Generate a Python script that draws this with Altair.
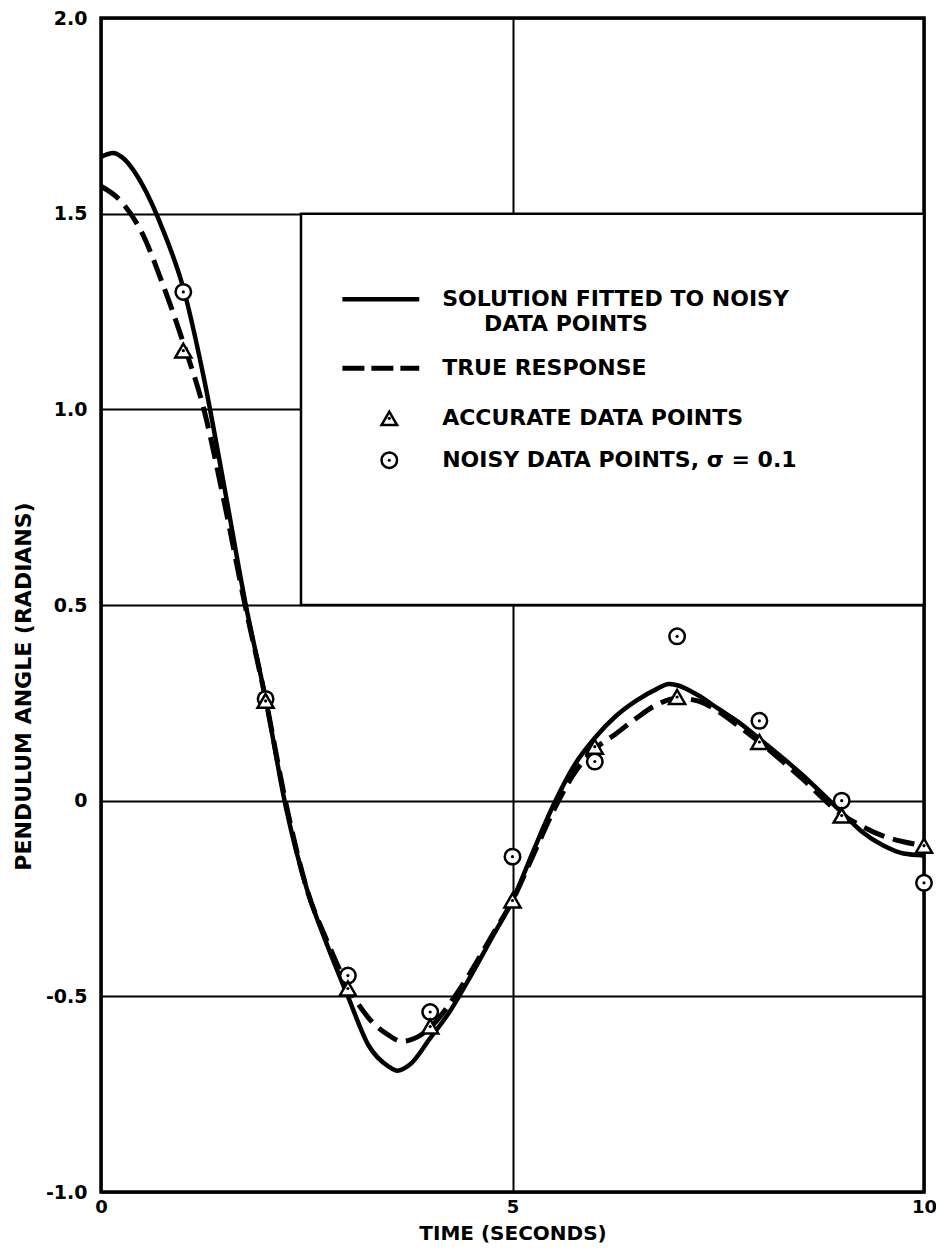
import altair as alt
import pandas as pd

# ---------------- data ----------------
fit_t = [0, 0.15, 0.25, 0.5, 0.75, 1.0, 1.25, 1.5, 1.75, 2.0, 2.25, 2.5, 2.75, 3.0,
         3.25, 3.5, 3.6, 3.75, 4.0, 4.25, 4.5, 4.75, 5.0, 5.25, 5.5, 5.75, 6.0, 6.25,
         6.5, 6.75, 6.9, 7.0, 7.25, 7.5, 7.75, 8.0, 8.5, 9.0, 9.25, 9.5, 9.75, 10.0]
fit_v = [1.645, 1.655, 1.645, 1.575, 1.46, 1.31, 1.08, 0.80, 0.51, 0.26, -0.02, -0.225,
         -0.37, -0.50, -0.625, -0.68, -0.69, -0.675, -0.607, -0.535, -0.445, -0.35,
         -0.255, -0.13, -0.01, 0.09, 0.16, 0.215, 0.255, 0.285, 0.298, 0.295, 0.27,
         0.235, 0.20, 0.158, 0.07, -0.03, -0.08, -0.114, -0.135, -0.14]

true_t = [0, 0.25, 0.5, 0.75, 1.0, 1.25, 1.5, 1.75, 2.0, 2.25, 2.5, 2.75, 3.0, 3.25,
          3.5, 3.65, 3.75, 4.0, 4.25, 4.5, 4.75, 5.0, 5.25, 5.5, 5.75, 6.0, 6.25, 6.5,
          6.75, 7.0, 7.25, 7.5, 7.75, 8.0, 8.5, 9.0, 9.25, 9.5, 9.75, 10.0]
true_v = [1.57, 1.53, 1.45, 1.32, 1.17, 1.0, 0.76, 0.50, 0.26, -0.01, -0.225, -0.36,
          -0.475, -0.555, -0.60, -0.615, -0.612, -0.58, -0.515, -0.435, -0.345, -0.255,
          -0.14, -0.025, 0.07, 0.132, 0.17, 0.21, 0.245, 0.262, 0.255, 0.228, 0.19,
          0.15, 0.06, -0.035, -0.066, -0.09, -0.105, -0.115]

obs_t = [1, 2, 3, 4, 5, 6, 7, 8, 9, 10]
accurate_v = [1.15, 0.255, -0.48, -0.577, -0.255, 0.138, 0.265, 0.15, -0.038, -0.115]
noisy_v = [1.30, 0.26, -0.447, -0.54, -0.143, 0.10, 0.42, 0.204, 0.0, -0.21]

x_ticks = [0, 5, 10]
y_ticks = [-1.0, -0.5, 0, 0.5, 1.0, 1.5, 2.0]

legend_labels = ["SOLUTION FITTED TO NOISY", "DATA POINTS", "TRUE RESPONSE",
                 "ACCURATE DATA POINTS", "NOISY DATA POINTS, σ = 0.1"]

x_title = "TIME (SECONDS)"
y_title = "PENDULUM ANGLE (RADIANS)"

# ---------------- layout (data coordinates) ----------------
box = pd.DataFrame({"t": [2.43], "t2": [10.0], "v": [0.5], "v2": [1.5]})
label_x = [4.145, 4.655, 4.145, 4.145, 4.145]
label_y = [1.281, 1.217, 1.105, 0.977, 0.870]
sample_x = [2.933, 3.867]
symbol_x = 3.503

FONT = "DejaVu Sans"

fit_df = pd.DataFrame({"t": fit_t, "v": fit_v})
true_df = pd.DataFrame({"t": true_t, "v": true_v})
acc_df = pd.DataFrame({"t": obs_t, "v": accurate_v})
noisy_df = pd.DataFrame({"t": obs_t, "v": noisy_v})
lab_df = pd.DataFrame({"t": label_x, "v": label_y, "label": legend_labels})
solid_sample = pd.DataFrame({"t": sample_x, "v": [label_y[0]] * 2})
dash_sample = pd.DataFrame({"t": sample_x, "v": [label_y[2]] * 2})
tri_sample = pd.DataFrame({"t": [symbol_x], "v": [label_y[3]]})
circ_sample = pd.DataFrame({"t": [symbol_x], "v": [label_y[4]]})

xs = alt.Scale(domain=[0, 10], nice=False, zero=False)
ys = alt.Scale(domain=[-1, 2], nice=False, zero=False)

common = dict(grid=True, gridColor="black", gridWidth=2, gridOpacity=1, ticks=False,
              domain=False, labelFlush=False, labelFont=FONT, titleFont=FONT,
              labelFontWeight="bold", titleFontWeight="bold", labelColor="black",
              titleColor="black")
x_axis = alt.Axis(values=x_ticks, labelFontSize=18, labelPadding=6, titleFontSize=20,
                  titlePadding=7, **common)
y_axis = alt.Axis(values=y_ticks,
                  labelExpr="datum.value == 0 ? '0' : (datum.value < 0 ? '-' + format(-datum.value, '.1f') : format(datum.value, '.1f'))",
                  labelFontSize=19, labelPadding=14, titleFontSize=22,
                  titleAngle=270, titleX=-78, titleY=668,
                  titleAlign="center", titleBaseline="middle", **common)

X = alt.X("t:Q", scale=xs, title=x_title, axis=x_axis)
Y = alt.Y("v:Q", scale=ys, title=y_title, axis=y_axis)

legend_box = alt.Chart(box).mark_rect(fill="white", stroke="black", strokeWidth=2.5).encode(
    x=X, x2="t2:Q", y=Y, y2="v2:Q")

solid = alt.Chart(fit_df).mark_line(color="black", strokeWidth=4.5, interpolate="monotone").encode(
    x=X, y=Y)
dashed = alt.Chart(true_df).mark_line(color="black", strokeWidth=5, strokeDash=[22, 9],
                                      interpolate="monotone").encode(x=X, y=Y)

def ring(df, shape, size):
    return alt.Chart(df).mark_point(shape=shape, size=size, filled=True, fill="white",
                                    stroke="black", strokeWidth=2.5, opacity=1).encode(x=X, y=Y)

def dot(df):
    return alt.Chart(df).mark_point(shape="circle", size=10, filled=True,
                                    color="black", opacity=1).encode(x=X, y=Y)

circles = ring(noisy_df, "circle", 240)
tris = ring(acc_df, "triangle-up", 260)

leg_solid = alt.Chart(solid_sample).mark_line(color="black", strokeWidth=4.5).encode(x=X, y=Y)
leg_dash = alt.Chart(dash_sample).mark_line(color="black", strokeWidth=5,
                                            strokeDash=[22, 7]).encode(x=X, y=Y)
leg_tri = ring(tri_sample, "triangle-up", 240)
leg_circ = ring(circ_sample, "circle", 240)
leg_text = alt.Chart(lab_df).mark_text(align="left", baseline="middle", fontSize=22,
                                       fontWeight="bold", font=FONT, color="black").encode(
    x=X, y=Y, text="label:N")

chart = alt.layer(
    legend_box, dashed, solid, circles, dot(noisy_df), tris, dot(acc_df),
    leg_solid, leg_dash, leg_tri, dot(tri_sample), leg_circ, dot(circ_sample), leg_text
).properties(
    width=823, height=1174,
    autosize=alt.AutoSizeParams(type="none"),
    padding={"left": 93, "top": 10, "right": 12, "bottom": 52},
    background="white",
).configure_view(
    stroke="black", strokeWidth=3.5
)

chart.save("out.html", embed_options={"renderer": "svg", "actions": False})
